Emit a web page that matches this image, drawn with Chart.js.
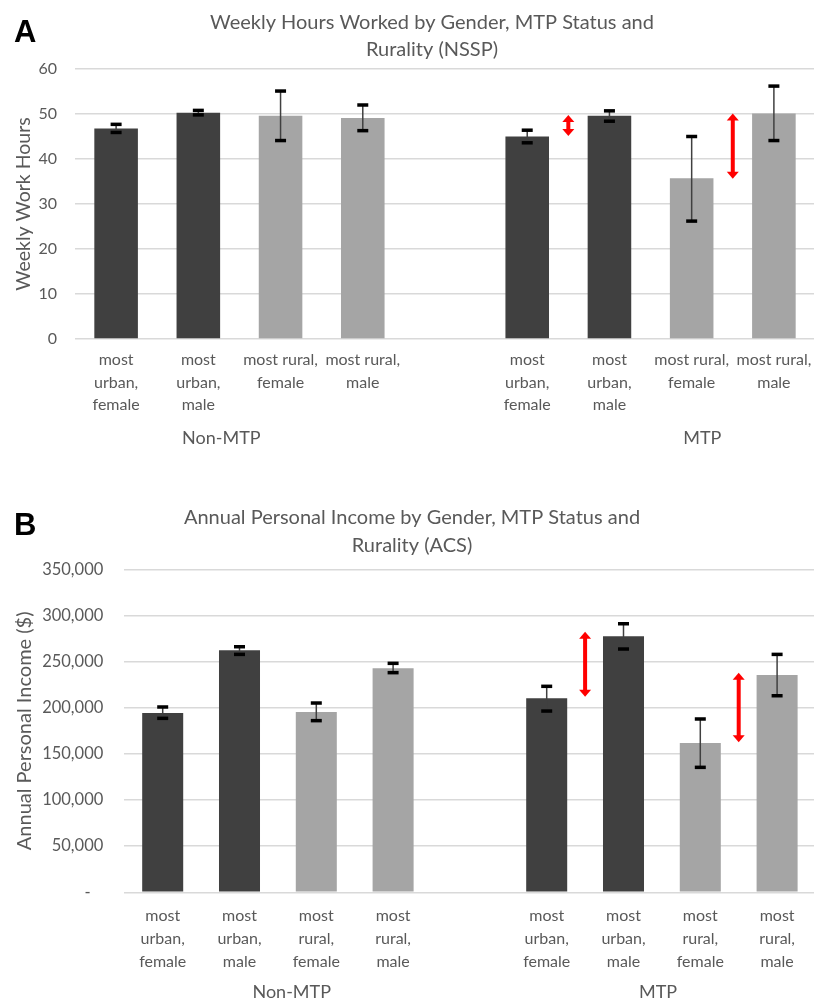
<!DOCTYPE html>
<html><head><meta charset="utf-8">
<script src="https://cdn.jsdelivr.net/npm/chart.js@4.4.1/dist/chart.umd.min.js"></script>
<style>
html,body{margin:0;padding:0;overflow:hidden;background:#fff;width:814px;height:1001px;position:relative}
#wa{position:absolute;left:0;top:0;width:864px;height:480px}
#wb{position:absolute;left:0;top:490px;width:824px;height:530px}
.tag{position:absolute;left:14px;font:bold 31px 'Liberation Sans',Arial,sans-serif;line-height:31px;color:#000}
</style></head>
<body>
<div id="wa"><canvas id="ca"></canvas></div>
<div id="wb"><canvas id="cb"></canvas></div>
<div class="tag" style="top:16px">A</div>
<div class="tag" style="top:509px">B</div>
<script>
// ---------- Data: chart A (weekly hours, NSSP) ----------
const categoriesA = [["most","urban,","female"],["most","urban,","male"],["most rural,","female"],["most rural,","male"],"",["most","urban,","female"],["most","urban,","male"],["most rural,","female"],["most rural,","male"]];
const groupsA = ["Non-MTP","MTP"];
const hoursMean = [46.8, 50.3, 49.6, 49.1, null, 45.0, 49.6, 35.7, 50.1];
const hoursLow  = [45.9, 49.8, 44.1, 46.3, null, 43.6, 48.4, 26.2, 44.1];
const hoursHigh = [47.7, 50.8, 55.1, 52.0, null, 46.4, 50.7, 45.0, 56.2];
const hoursArrowFrom = [49.8, 50.1];
const hoursArrowTo   = [45.1, 35.6];
const yTicksA = [0, 10, 20, 30, 40, 50, 60];

// ---------- Data: chart B (annual income, ACS) ----------
const categoriesB = [["most","urban,","female"],["most","urban,","male"],["most","rural,","female"],["most","rural,","male"],"",["most","urban,","female"],["most","urban,","male"],["most","rural,","female"],["most","rural,","male"]];
const groupsB = ["Non-MTP","MTP"];
const incomeMean = [194300, 262200, 195300, 242700, null, 210200, 277400, 161800, 235400];
const incomeLow  = [188500, 257800, 186000, 238000, null, 196400, 263600, 135400, 213000];
const incomeHigh = [200800, 266100, 205100, 248100, null, 223200, 291000, 187800, 257800];
const incomeArrowFrom = [282300, 237900];
const incomeArrowTo   = [211900, 162500];
const yTicksB = [0, 50000, 100000, 150000, 200000, 250000, 300000, 350000];

// ---------- layout / style settings ----------
const arrowSlots = [5.5, 7.5];           // between the compared MTP bars
const groupPosA = [1.28, 7.13];          // where group captions sit (category units)
const groupPosB = [1.68, 6.45];
const DARK = '#404040', LIGHT = '#a5a5a5', TXT = '#595959', GRID = '#d9d9d9';
const FONT = "Lato, 'Open Sans', sans-serif";
const colorsFor = labels => labels.map(l => Array.isArray(l) && l.join(' ').includes('urban') ? DARK : LIGHT);

function marksPlugin(o) {
  return {
    id: 'marks',
    afterDatasetsDraw(chart) {
      const {ctx, scales: {x, y}} = chart;
      ctx.save();
      ctx.lineCap = 'butt';
      o.low.forEach((lo, i) => {
        if (lo == null) return;
        const px = x.getPixelForValue(i);
        const y0 = y.getPixelForValue(lo), y1 = y.getPixelForValue(o.high[i]);
        ctx.strokeStyle = '#404040'; ctx.lineWidth = 1.5;
        ctx.beginPath(); ctx.moveTo(px, y1); ctx.lineTo(px, y0); ctx.stroke();
        ctx.strokeStyle = '#000'; ctx.lineWidth = 3.5;
        [y0, y1].forEach(yy => { ctx.beginPath(); ctx.moveTo(px - 5.5, yy); ctx.lineTo(px + 5.5, yy); ctx.stroke(); });
      });
      o.aFrom.forEach((v, k) => {
        const px = x.getPixelForValue(arrowSlots[k]);
        const yt = y.getPixelForValue(v), yb = y.getPixelForValue(o.aTo[k]);
        const hl = 7, hw = 6;
        ctx.fillStyle = '#ff0000'; ctx.strokeStyle = '#ff0000'; ctx.lineWidth = 4;
        ctx.beginPath(); ctx.moveTo(px, yt + hl - 1); ctx.lineTo(px, yb - hl + 1); ctx.stroke();
        ctx.beginPath(); ctx.moveTo(px, yt); ctx.lineTo(px - hw, yt + hl); ctx.lineTo(px + hw, yt + hl); ctx.closePath(); ctx.fill();
        ctx.beginPath(); ctx.moveTo(px, yb); ctx.lineTo(px - hw, yb - hl); ctx.lineTo(px + hw, yb - hl); ctx.closePath(); ctx.fill();
      });
      ctx.restore();
    },
    afterDraw(chart) {
      // group captions under the category labels
      const {ctx, scales: {x}, chartArea} = chart;
      ctx.save();
      ctx.fillStyle = TXT;
      ctx.font = `400 ${o.groupSize}px ${FONT}`;
      ctx.textAlign = 'center'; ctx.textBaseline = 'middle';
      o.groups.forEach((g, k) => ctx.fillText(g, x.getPixelForValue(o.groupPos[k]), chartArea.bottom + o.groupOffset));
      ctx.restore();
    }
  };
}

function makeChart(id, o) {
  return new Chart(document.getElementById(id), {
    type: 'bar',
    data: {
      labels: o.labels,
      datasets: [{ data: o.values, backgroundColor: colorsFor(o.labels), borderWidth: 0,
                   barPercentage: o.barPct, categoryPercentage: 1 }]
    },
    options: {
      responsive: true, maintainAspectRatio: false, animation: false, devicePixelRatio: 1,
      layout: { padding: o.pad },
      plugins: {
        legend: { display: false }, tooltip: { enabled: false },
        title: { display: true, text: o.title, color: TXT,
                 font: { family: FONT, size: o.titleSize, weight: 400, lineHeight: o.titleLH / o.titleSize },
                 padding: o.titlePad }
      },
      scales: {
        x: { type: 'category', offset: true,
             grid: { display: false, drawTicks: false }, border: { display: false },
             ticks: { color: TXT, font: { family: FONT, size: o.tickSize, weight: 400, lineHeight: o.catLH / o.tickSize },
                      padding: o.catPad, autoSkip: false, maxRotation: 0, minRotation: 0 },
             afterFit: s => { s.height = o.catH; } },
        y: { min: o.yTicks[0], max: o.yTicks[o.yTicks.length - 1],
             afterBuildTicks: s => { s.ticks = o.yTicks.map(v => ({ value: v })); },
             grid: { color: GRID, lineWidth: 1.5, drawTicks: false }, border: { display: false },
             ticks: { color: TXT, font: { family: FONT, size: o.ySize, weight: 400 }, padding: o.yPad, callback: o.yFmt },
             title: { display: true, text: o.yTitle, color: TXT, font: { family: FONT, size: o.yTitleSize, weight: 400 },
                      padding: { top: o.yTitlePad, bottom: 0 } },
             afterFit: s => { s.width = o.yW; } },
        yR: { type: 'linear', position: 'right', display: true,
              grid: { display: false, drawTicks: false }, border: { display: false },
              ticks: { display: false },
              afterFit: s => { s.width = o.rightW; } }
      }
    },
    plugins: [marksPlugin(o)]
  });
}

makeChart('ca', {
  labels: categoriesA, values: hoursMean, low: hoursLow, high: hoursHigh, aFrom: hoursArrowFrom, aTo: hoursArrowTo,
  groups: groupsA, groupPos: groupPosA, groupSize: 18, groupOffset: 99,
  yTicks: yTicksA, yFmt: v => String(v),
  title: ['Weekly Hours Worked by Gender, MTP Status and', 'Rurality (NSSP)'],
  titleSize: 20, titleLH: 27, titlePad: { top: 9.5, bottom: 5.5 },
  pad: { left: 0, right: 0, top: 0, bottom: 21 }, rightW: 49,
  barPct: 0.53, tickSize: 16, catLH: 22.5, catPad: 10, catH: 120,
  ySize: 16, yPad: 18, yW: 75, yTitle: 'Weekly Work Hours', yTitleSize: 19.5, yTitlePad: 12
});

makeChart('cb', {
  labels: categoriesB, values: incomeMean, low: incomeLow, high: incomeHigh, aFrom: incomeArrowFrom, aTo: incomeArrowTo,
  groups: groupsB, groupPos: groupPosB, groupSize: 18, groupOffset: 99.7,
  yTicks: yTicksB, yFmt: v => v === 0 ? '-   ' : v.toLocaleString('en-US'),
  title: ['Annual Personal Income by Gender, MTP Status and', 'Rurality (ACS)'],
  titleSize: 20, titleLH: 28, titlePad: { top: 14, bottom: 9.3 },
  pad: { left: 0, right: 0, top: 0, bottom: 12.7 }, rightW: 8.5,
  barPct: 0.534, tickSize: 16, catLH: 23, catPad: 12, catH: 115,
  ySize: 16.5, yPad: 21, yW: 124.3, yTitle: 'Annual Personal Income ($)', yTitleSize: 20, yTitlePad: 13
});
</script>
</body></html>
